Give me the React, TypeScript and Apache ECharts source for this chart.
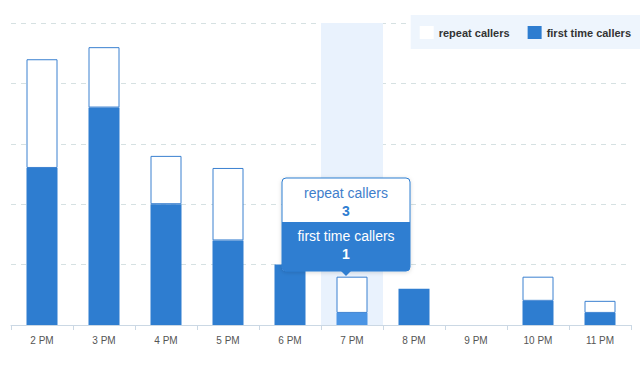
import React, { useEffect, useRef } from "react";
import * as echarts from "echarts";

const categories = ["2 PM", "3 PM", "4 PM", "5 PM", "6 PM", "7 PM", "8 PM", "9 PM", "10 PM", "11 PM"];
const firstTimeCallers = [13, 18, 10, 7, 5, 1, 3, 0, 2, 1];
const repeatCallers = [9, 5, 4, 6, 0, 3, 0, 0, 2, 1];
const highlightIndex = 5;
const yMax = 25;

export default function App() {
  const ref = useRef<HTMLDivElement>(null);
  useEffect(() => {
    if (!ref.current) return;
    const chart = echarts.init(ref.current, undefined, { renderer: "svg" });
    const blue = "#2e7dd0";
    const font = "Arial, 'Liberation Sans', sans-serif";
    const bandData = categories.map((_, i) => (i === highlightIndex ? yMax : "-"));
    const firstData = firstTimeCallers.map((v, i) =>
      v === 0 ? "-" : i === highlightIndex ? { value: v, itemStyle: { color: "#4a94e4" } } : v
    );
    const repeatData = repeatCallers.map((v) => (v === 0 ? "-" : v));
    const cx = 346;
    const Z = 100;
    chart.setOption({
      animation: false,
      grid: { left: 11, right: 12, top: 23, bottom: 40, containLabel: false },
      legend: {
        right: 3,
        top: 15,
        padding: [11, 9, 10, 9],
        backgroundColor: "#eef5fd",
        itemWidth: 14,
        itemHeight: 13,
        itemGap: 18,
        textStyle: { fontFamily: font, fontSize: 11, fontWeight: "bold", color: "#333" },
        data: [
          { name: "repeat callers", icon: "rect", itemStyle: { color: "#ffffff", borderWidth: 0 } },
          { name: "first time callers", icon: "rect" },
        ],
      },
      xAxis: [
        {
          type: "category",
          data: categories,
          axisLine: { lineStyle: { color: "#cbd8e4" } },
          axisTick: { show: true, length: 5, lineStyle: { color: "#cbd8e4" } },
          axisLabel: { color: "#555", fontSize: 10, fontFamily: font, margin: 10 },
        },
        { type: "category", data: categories, show: false },
      ],
      yAxis: {
        type: "value",
        min: 0,
        max: yMax,
        interval: 5,
        axisLabel: { show: false },
        axisLine: { show: false },
        axisTick: { show: false },
        splitLine: { lineStyle: { color: "#d6e1e2", type: [5, 5] } },
      },
      series: [
        {
          name: "band",
          type: "bar",
          xAxisIndex: 1,
          data: bandData,
          barWidth: "100%",
          itemStyle: { color: "#e9f2fd" },
          silent: true,
          z: 0,
        },
        {
          name: "first time callers",
          type: "bar",
          stack: "calls",
          data: firstData,
          barWidth: "50%",
          itemStyle: { color: blue },
          z: 2,
        },
        {
          name: "repeat callers",
          type: "bar",
          stack: "calls",
          data: repeatData,
          barWidth: "50%",
          itemStyle: { color: "#ffffff", borderColor: "#3a80d0", borderWidth: 1 },
          z: 2,
        },
      ],
      graphic: {
        elements: [
          {
            type: "rect",
            z: Z,
            shape: { x: 282, y: 178, width: 128, height: 93, r: 4 },
            style: { fill: "#ffffff", stroke: "#2f7ed1", lineWidth: 1, shadowBlur: 4, shadowColor: "rgba(0,0,0,0.15)", shadowOffsetY: 1 },
          },
          {
            type: "rect",
            z: Z + 1,
            shape: { x: 282, y: 222, width: 128, height: 49, r: [0, 0, 4, 4] },
            style: { fill: "#2f7ed1" },
          },
          {
            type: "polygon",
            z: Z + 1,
            shape: { points: [[341, 271], [351, 271], [346, 276]] },
            style: { fill: "#2f7ed1" },
          },
          {
            type: "text",
            z: Z + 2,
            style: { text: "repeat callers", x: cx, y: 193, align: "center", verticalAlign: "middle", fill: "#3f7ecb", fontSize: 14, fontFamily: font },
          },
          {
            type: "text",
            z: Z + 2,
            style: { text: String(repeatCallers[highlightIndex]), x: cx, y: 211, align: "center", verticalAlign: "middle", fill: "#2f7ed1", fontSize: 14, fontWeight: "bold", fontFamily: font },
          },
          {
            type: "text",
            z: Z + 2,
            style: { text: "first time callers", x: cx, y: 236, align: "center", verticalAlign: "middle", fill: "#ffffff", fontSize: 14, fontFamily: font },
          },
          {
            type: "text",
            z: Z + 2,
            style: { text: String(firstTimeCallers[highlightIndex]), x: cx, y: 254, align: "center", verticalAlign: "middle", fill: "#ffffff", fontSize: 14, fontWeight: "bold", fontFamily: font },
          },
        ],
      },
    });
    return () => chart.dispose();
  }, []);
  return <div ref={ref} style={{ width: 643, height: 365, position: "absolute", left: 0, top: 0 }} />;
}
